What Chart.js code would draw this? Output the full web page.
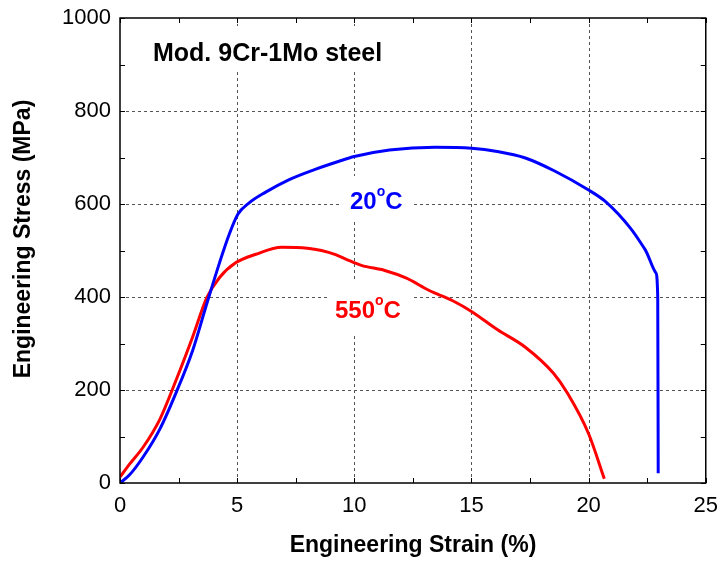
<!DOCTYPE html>
<html>
<head>
<meta charset="utf-8">
<script src="https://cdn.jsdelivr.net/npm/chart.js@4"></script>
<style>
  html, body { margin: 0; padding: 0; background: #fff; }
  #wrap { width: 720px; height: 561px; }
</style>
</head>
<body>
<div id="wrap"><canvas id="tensileChart" width="720" height="561"></canvas></div>
<script>
const strain20 = [0, 0.4, 1.0, 1.7, 2.4, 3.1, 3.7, 4.25, 4.67, 5.03, 5.5, 6.2, 7.2, 8.3, 9.35, 10.0, 11.5, 13.45, 15.0, 16.1, 17.3, 18.55, 20.0, 20.7, 21.8, 22.4, 22.87, 22.95, 22.97];
const stress20 = [0, 17, 57, 116, 195, 285, 385, 474, 536, 578, 602, 625, 652, 674, 692, 702, 716, 722, 720, 713, 699, 671, 630, 606, 547, 503, 452, 400, 21];

const strain550 = [0, 0.4, 1.0, 1.7, 2.4, 3.1, 3.7, 4.25, 4.95, 5.8, 6.9, 8.0, 8.6, 9.2, 9.7, 10.3, 11.3, 12.2, 13.2, 14.2, 15.0, 16.1, 17.3, 18.5, 19.1, 20.0, 20.67];
const stress550 = [13, 40, 78, 137, 222, 314, 398, 442, 474, 492, 507, 505, 500, 491, 480, 468, 457, 441, 414, 392, 369, 330, 292, 236, 193, 106, 9];

const xTicks = [0, 5, 10, 15, 20, 25];
const yTicks = [0, 200, 400, 600, 800, 1000];
const xMinorStep = 2.5;
const yMinorStep = 100;

const FONT = "'Liberation Sans', Arial, Helvetica, sans-serif";

function toPoints(xs, ys) {
  return xs.map((x, i) => ({ x: x, y: ys[i] }));
}

// Desenha texto com "o" sobrescrito (grau)
function drawDegreeLabel(ctx, num, x, baseline, color) {
  ctx.fillStyle = color;
  ctx.textAlign = 'left';
  ctx.textBaseline = 'alphabetic';
  ctx.font = 'bold 24px ' + FONT;
  ctx.fillText(num, x, baseline);
  let w = ctx.measureText(num).width;
  ctx.font = 'bold 14px ' + FONT;
  ctx.fillText('o', x + w, baseline - 13);
  w += ctx.measureText('o').width;
  ctx.font = 'bold 24px ' + FONT;
  ctx.fillText('C', x + w, baseline);
}

// Plugin: grade tracejada, caixas brancas, textos, moldura e ticks internos
const framePlugin = {
  id: 'framePlugin',
  beforeDatasetsDraw(chart) {
    const ctx = chart.ctx;
    const a = chart.chartArea;
    const xs = chart.scales.x, ys = chart.scales.y;
    ctx.save();
    ctx.strokeStyle = '#555';
    ctx.lineWidth = 1;
    ctx.setLineDash([3, 3]);
    xTicks.slice(1, -1).forEach(v => {
      const px = Math.round(xs.getPixelForValue(v)) + 0.5;
      ctx.beginPath(); ctx.moveTo(px, a.top); ctx.lineTo(px, a.bottom); ctx.stroke();
    });
    yTicks.slice(1, -1).forEach(v => {
      const py = Math.round(ys.getPixelForValue(v)) + 0.5;
      ctx.beginPath(); ctx.moveTo(a.left, py); ctx.lineTo(a.right, py); ctx.stroke();
    });
    ctx.setLineDash([]);

    // caixas brancas atrás dos rótulos
    ctx.fillStyle = '#fff';
    ctx.fillRect(140, 26, 260, 46);
    ctx.fillRect(341, 176, 72, 45);
    ctx.fillRect(327, 282, 86, 53);

    ctx.fillStyle = '#000';
    ctx.font = 'bold 25px ' + FONT;
    ctx.textAlign = 'left';
    ctx.textBaseline = 'alphabetic';
    ctx.fillText('Mod. 9Cr-1Mo steel', 153, 61);

    drawDegreeLabel(ctx, '20', 350, 209, '#0000ff');
    drawDegreeLabel(ctx, '550', 335, 318, '#ff0000');
    ctx.restore();
  },
  afterDatasetsDraw(chart) {
    const ctx = chart.ctx;
    const a = chart.chartArea;
    const xs = chart.scales.x, ys = chart.scales.y;
    ctx.save();
    ctx.strokeStyle = '#000';
    ctx.lineWidth = 1.5;
    ctx.strokeRect(a.left, a.top, a.right - a.left, a.bottom - a.top);

    // ticks internos nos quatro lados
    ctx.lineWidth = 1;
    const tl = 5;
    for (let v = 0; v <= 25; v += xMinorStep) {
      const px = Math.round(xs.getPixelForValue(v)) + 0.5;
      ctx.beginPath();
      ctx.moveTo(px, a.bottom); ctx.lineTo(px, a.bottom - tl);
      ctx.moveTo(px, a.top); ctx.lineTo(px, a.top + tl);
      ctx.stroke();
    }
    for (let v = 0; v <= 1000; v += yMinorStep) {
      const py = Math.round(ys.getPixelForValue(v)) + 0.5;
      ctx.beginPath();
      ctx.moveTo(a.left, py); ctx.lineTo(a.left + tl, py);
      ctx.moveTo(a.right, py); ctx.lineTo(a.right - tl, py);
      ctx.stroke();
    }

    // títulos dos eixos
    ctx.fillStyle = '#000';
    ctx.font = 'bold 23px ' + FONT;
    ctx.textAlign = 'center';
    ctx.textBaseline = 'middle';
    ctx.fillText('Engineering Strain (%)', 413, 546);
    ctx.translate(24, 239);
    ctx.rotate(-Math.PI / 2);
    ctx.fillText('Engineering Stress (MPa)', 0, 0);
    ctx.restore();
  }
};

const ctx = document.getElementById('tensileChart');
new Chart(ctx, {
  type: 'scatter',
  data: {
    datasets: [
      {
        label: '20°C',
        data: toPoints(strain20, stress20),
        showLine: true,
        borderColor: '#0000ff',
        borderWidth: 3,
        pointRadius: 0,
        cubicInterpolationMode: 'monotone'
      },
      {
        label: '550°C',
        data: toPoints(strain550, stress550),
        showLine: true,
        borderColor: '#ff0000',
        borderWidth: 3,
        pointRadius: 0,
        cubicInterpolationMode: 'monotone'
      }
    ]
  },
  options: {
    responsive: false,
    animation: false,
    layout: { padding: { top: 18, right: 0, left: 0, bottom: 0 } },
    plugins: {
      legend: { display: false },
      tooltip: { enabled: false }
    },
    scales: {
      x: {
        type: 'linear',
        min: 0,
        max: 25,
        afterFit: function(scale) { scale.height = 78; },
        afterBuildTicks: function(scale) { scale.ticks = xTicks.map(v => ({ value: v })); },
        ticks: {
          padding: 2,
          color: '#000',
          font: { family: FONT, size: 22 },
          callback: v => String(v)
        },
        grid: { display: false },
        border: { display: false }
      },
      y: {
        type: 'linear',
        min: 0,
        max: 1000,
        afterFit: function(scale) { scale.width = 120; },
        afterBuildTicks: function(scale) { scale.ticks = yTicks.map(v => ({ value: v })); },
        ticks: {
          padding: 1,
          color: '#000',
          font: { family: FONT, size: 22 },
          callback: v => String(v)
        },
        grid: { display: false },
        border: { display: false }
      }
    }
  },
  plugins: [framePlugin]
});
</script>
</body>
</html>
